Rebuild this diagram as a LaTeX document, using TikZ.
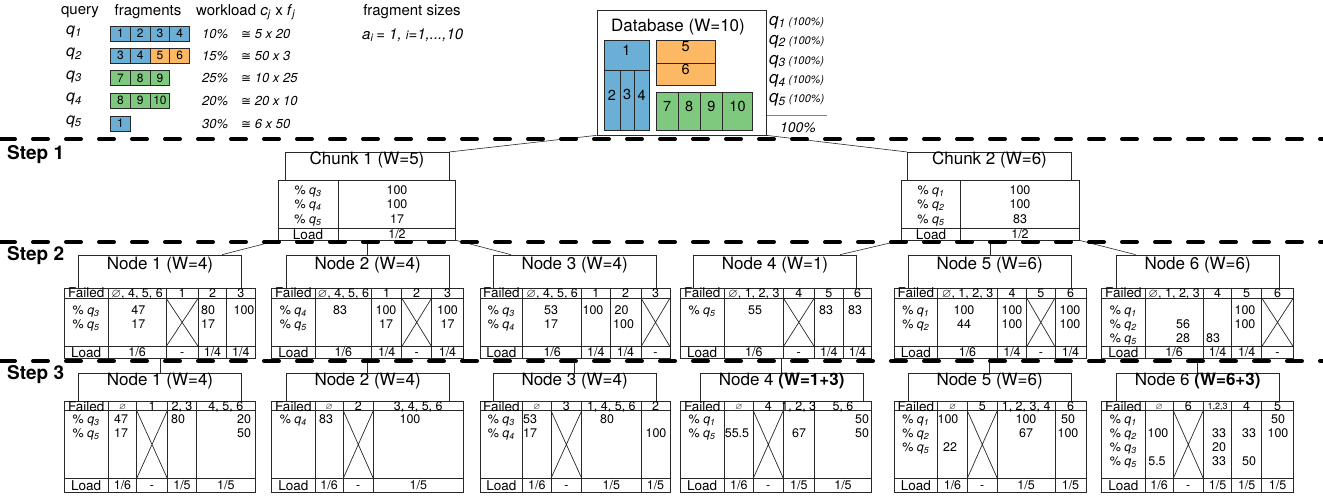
\documentclass[tikz,border=0pt]{standalone}
\usepackage{fontspec}
\setmainfont{TeX Gyre Heros}
\newfontfamily\djv{DejaVu Sans}
\usepackage{amssymb}
\usetikzlibrary{calc,fit}
\definecolor{cblue}{RGB}{107,174,214}
\definecolor{corange}{RGB}{253,184,99}
\definecolor{cgreen}{RGB}{127,201,127}
\definecolor{lc}{RGB}{40,40,40}
\newcommand{\qq}[1]{\textit{q}\textsubscript{\textit{#1}}}
\newcommand{\es}{$\varnothing$}
\newcommand{\cgsym}{{\djv\upshape\fontsize{12}{14}\selectfont ≅}}
\newcounter{tn}
\newcommand{\tx}[4][]{\stepcounter{tn}\node[cell,#1] (t\arabic{tn}) at (#2,#3) {#4};}
\newcommand{\mktab}[5]{\node[box,fit={(#2,#3)(#4,#5)}] (#1) {};}
\newcommand{\ttlbox}[6]{\node[box,ttl,fit={(#2,#3)(#4,#5)}] (#1) {#6};}
\newcommand{\vd}[3]{\draw[tl] (#1,#2) -- (#1,#3);}
\newcommand{\hd}[3]{\draw[tl] (#1,#3) -- (#2,#3);}
\newcommand{\xx}[4]{\draw[tl] (#1,#3) -- (#2,#4) (#1,#4) -- (#2,#3);}
\newcommand{\stwotab}[4]{\mktab{#1}{#2}{288}{#3}{358}\hd{#2}{#3}{298}\hd{#2}{#3}{346.7}\foreach \dv in {#4}{\vd{\dv}{288}{358}}}
\newcommand{\sthreetab}[4]{\mktab{#1}{#2}{401.7}{#3}{492.3}\hd{#2}{#3}{410.7}\hd{#2}{#3}{478.3}\foreach \dv in {#4}{\vd{\dv}{401.7}{492.3}}}
\begin{document}
\begin{tikzpicture}[x=1pt,y=-1pt,
  tl/.style={draw=lc, line width=0.7pt},
  box/.style={draw=lc, line width=0.7pt, inner sep=0pt},
  ttl/.style={font=\fontsize{17}{20}\selectfont},
  cell/.style={inner sep=0pt, font=\fontsize{12.5}{14}\selectfont, text height=8.9pt, text depth=0pt},
  lab/.style={font=\fontsize{13.5}{15}\selectfont, text height=9.6pt},
  sm/.style={font=\fontsize{9}{10}\selectfont, text height=6.5pt},
  conn/.style={draw=lc, line width=0.6pt},
  stepline/.style={draw=black, line width=4pt, dash pattern=on 15pt off 18pt, line cap=round},
  steplabel/.style={inner sep=0pt, anchor=west, font=\fontsize{19}{21}\selectfont\bfseries},
  fb/.style={box, minimum width=19.7pt, minimum height=15pt, font=\fontsize{12}{14}\selectfont},
  hdr/.style={inner sep=0pt, font=\fontsize{15}{18}\selectfont},
  ql/.style={inner sep=0pt, font=\fontsize{16}{18}\selectfont},
  wl/.style={inner sep=0pt, anchor=west, font=\fontsize{13}{15}\selectfont\itshape, text height=9pt, text depth=0pt},
  dbn/.style={box, font=\fontsize{14.5}{16}\selectfont},
  dbq/.style={inner sep=0pt, anchor=base west, font=\fontsize{17}{19}\selectfont},
]
\useasboundingbox (0,0) rectangle (1323,498);
\fill[white] (0,0) rectangle (1323,498);
% ---------------- legend
\node[hdr] (hq) at (80,12) {query};
\node[hdr] (hf) at (148,12) {fragments};
\node[hdr, anchor=west] (hw) at (196,12) {workload \textit{c}\textsubscript{\textit{j}} x \textit{f}\textsubscript{\textit{j}}};
\node[hdr] (hs) at (412,12) {fragment sizes};
\node[hdr, anchor=west] (ai) at (362,35) {\textit{a}\textsubscript{\textit{i}}\,\textit{= 1, }{\itshape{\fontsize{12}{14}\selectfont i}=1,...,10}};
\foreach \i/\yy in {1/31.5,2/54,3/76.5,4/99,5/121.5}{\node[ql] (q\i) at (74,\yy) {\qq{\i}};}
\foreach \i/\c [count=\k] in {1/cblue,2/cblue,3/cblue,4/cblue}{\node[fb, fill=\c] (fa\k) at ({110.7+19.7*(\k-0.5)},33.5) {\i};}
\foreach \i/\c [count=\k] in {3/cblue,4/cblue,5/corange,6/corange}{\node[fb, fill=\c] (fb\k) at ({110.7+19.7*(\k-0.5)},55.5) {\i};}
\foreach \i/\c [count=\k] in {7/cgreen,8/cgreen,9/cgreen}{\node[fb, fill=\c] (fc\k) at ({110.7+19.7*(\k-0.5)},78) {\i};}
\foreach \i/\c [count=\k] in {8/cgreen,9/cgreen,10/cgreen}{\node[fb, fill=\c] (fd\k) at ({110.7+19.7*(\k-0.5)},100.7) {\i};}
\node[fb, fill=cblue] (fe1) at (120.55,123.5) {1};
\foreach \p/\f/\yy [count=\k] in {10/5 x 20/33.5,15/50 x 3/55.5,25/10 x 25/78,20/20 x 10/100.7,30/6 x 50/123.5}{
  \node[wl] (wp\k) at (202,\yy) {\p\%};
  \node[wl] (wf\k) at (241,\yy) {\cgsym\ \f};
}
% ---------------- database
\node[box, fit={(597,10)(766,135)}] (db) {};
\node[inner sep=0pt, ttl] (dbt) at (678,27) {Database (W=10)};
\node[dbn, fill=cblue, fit={(604,40.7)(649,70)}] (d1) {1};
\node[dbn, fill=cblue, fit={(604,70)(620,130)}] (d2) {2};
\node[dbn, fill=cblue, fit={(620,70)(634.3,130)}] (d3) {3};
\node[dbn, fill=cblue, fit={(634.3,70)(649,130)}] (d4) {4};
\node[dbn, fill=corange, fit={(656,40.7)(715.3,63.3)}] (d5) {5};
\node[dbn, fill=corange, fit={(656,63.3)(715.3,85)}] (d6) {6};
\node[dbn, fill=cgreen, fit={(656,92.3)(678.3,130)}] (d7) {7};
\node[dbn, fill=cgreen, fit={(678.3,92.3)(700,130)}] (d8) {8};
\node[dbn, fill=cgreen, fit={(700,92.3)(722.7,130)}] (d9) {9};
\node[dbn, fill=cgreen, fit={(722.7,92.3)(752.3,130)}] (d10) {10};
\foreach \i/\yy in {1/25.2,2/44.2,3/64.2,4/83.5,5/102.8}{\node[dbq] (dq\i) at (769,\yy) {\qq{\i}\,{\fontsize{11}{12}\selectfont\textit{(100\%)}}};}
\draw[draw=gray, line width=0.8pt] (767,115) -- (827,115);
\node[inner sep=0pt, font=\fontsize{14}{16}\selectfont\itshape] (tot) at (798,127.7) {100\%};
% ---------------- step labels
\node[steplabel] (st1) at (7,155) {Step 1};
\node[steplabel] (st2) at (7,256) {Step 2};
\node[steplabel] (st3) at (7,375) {Step 3};
% ---------------- chunks
\ttlbox{ch1}{285}{152.3}{449}{180.7}{Chunk 1 (W=5)}
\mktab{ch1t}{278.3}{180.7}{455.7}{240}
\vd{338.3}{180.7}{240}
\hd{278.3}{455.7}{228.3}
\tx{308}{190}{\% \qq{3}}
\tx{308}{204.3}{\% \qq{4}}
\tx{308}{219}{\% \qq{5}}
\tx[lab]{308}{234.3}{Load}
\tx{397}{190}{100}
\tx{397}{204.3}{100}
\tx{397}{219}{17}
\tx{397}{234.3}{1/2}
\ttlbox{ch2}{907.3}{152.3}{1071.7}{180.7}{Chunk 2 (W=6)}
\mktab{ch2t}{901.7}{180.7}{1079}{240}
\vd{960.7}{180.7}{240}
\hd{901.7}{1079}{228.3}
\tx{931}{190}{\% \qq{1}}
\tx{931}{204.3}{\% \qq{2}}
\tx{931}{219}{\% \qq{5}}
\tx[lab]{931}{234.3}{Load}
\tx{1020}{190}{100}
\tx{1020}{204.3}{100}
\tx{1020}{219}{83}
\tx{1020}{234.3}{1/2}
% ---------------- step 2
% Node 1
\ttlbox{s2n1}{78.3}{255}{241.7}{288}{Node 1 (W=4)}
\stwotab{s2t1}{64}{255}{108.3,166,198.3,226.7}
\xx{166}{198.3}{298}{346.7}
\tx[lab]{86.15}{293}{Failed}
\tx{137.15}{293}{\es, 4, 5, 6}
\tx{182.15}{293}{1}
\tx{212.5}{293}{2}
\tx{240.85}{293}{3}
\tx{86.15}{310}{\% \qq{3}}
\tx{86.15}{324}{\% \qq{5}}
\tx{138.3}{310}{47}
\tx{138.3}{324}{17}
\tx{208}{310}{80}
\tx{208}{324}{17}
\tx{244}{310}{100}
\tx[lab]{86.15}{352.5}{Load}
\tx{137.15}{352.5}{1/6}
\tx{182.15}{352.5}{-}
\tx{212.5}{352.5}{1/4}
\tx{240.85}{352.5}{1/4}
% Node 2
\ttlbox{s2n2}{286}{255}{449.3}{288}{Node 2 (W=4)}
\stwotab{s2t2}{271.7}{463.3}{315,371.7,401.7,431.7}
\xx{401.7}{431.7}{298}{346.7}
\tx[lab]{293.35}{293}{Failed}
\tx{343.35}{293}{\es, 4, 5, 6}
\tx{386.7}{293}{1}
\tx{416.7}{293}{2}
\tx{447.5}{293}{3}
\tx{293.35}{310}{\% \qq{4}}
\tx{293.35}{324}{\% \qq{5}}
\tx{340}{310}{83}
\tx{386}{310}{100}
\tx{386}{324}{17}
\tx{447.5}{310}{100}
\tx{447.5}{324}{17}
\tx[lab]{293.35}{352.5}{Load}
\tx{343.35}{352.5}{1/6}
\tx{386.7}{352.5}{1/4}
\tx{416.7}{352.5}{-}
\tx{447.5}{352.5}{1/4}
% Node 3
\ttlbox{s2n3}{493.3}{255}{656}{288}{Node 3 (W=4)}
\stwotab{s2t3}{480}{670}{522.7,581.7,610,641}
\xx{641}{670}{298}{346.7}
\tx[lab]{501.35}{293}{Failed}
\tx{552.2}{293}{\es, 4, 5, 6}
\tx{595.85}{293}{1}
\tx{625.5}{293}{2}
\tx{655.5}{293}{3}
\tx{501.35}{310}{\% \qq{3}}
\tx{501.35}{324}{\% \qq{4}}
\tx{551}{310}{53}
\tx{551}{324}{17}
\tx{593}{310}{100}
\tx[anchor=west]{614.5}{310}{20}
\tx[anchor=west]{613}{324}{100}
\tx[lab]{501.35}{352.5}{Load}
\tx{552.2}{352.5}{1/6}
\tx{595.85}{352.5}{1/4}
\tx{625.5}{352.5}{1/4}
\tx{655.5}{352.5}{-}
% Node 4
\ttlbox{s2n4}{693.3}{255}{856.7}{288}{Node 4 (W=1)}
\stwotab{s2t4}{680}{871.7}{724.3,783.3,814.3,843.3}
\xx{783.3}{814.3}{298}{346.7}
\tx[lab]{702.15}{293}{Failed}
\tx{753.8}{293}{\es, 1, 2, 3}
\tx{798.8}{293}{4}
\tx{828.8}{293}{5}
\tx{857.5}{293}{6}
\tx{702.15}{310}{\% \qq{5}}
\tx{755}{310}{55}
\tx{826}{310}{83}
\tx{855}{310}{83}
\tx[lab]{702.15}{352.5}{Load}
\tx{753.8}{352.5}{1/6}
\tx{798.8}{352.5}{-}
\tx{828.8}{352.5}{1/4}
\tx{857.5}{352.5}{1/4}
% Node 5
\ttlbox{s2n5}{908.3}{255}{1071}{288}{Node 5 (W=6)}
\stwotab{s2t5}{894}{1086}{937.7,997.3,1026.7,1055}
\xx{1026.7}{1055}{298}{346.7}
\tx[lab]{915.85}{293}{Failed}
\tx{967.5}{293}{\es, 1, 2, 3}
\tx{1012}{293}{4}
\tx{1040.85}{293}{5}
\tx{1070.5}{293}{6}
\tx{915.85}{310}{\% \qq{1}}
\tx{915.85}{324}{\% \qq{2}}
\tx{964}{310}{100}
\tx{964}{324}{44}
\tx{1012}{310}{100}
\tx{1012}{324}{100}
\tx{1070}{310}{100}
\tx{1070}{324}{100}
\tx[lab]{915.85}{352.5}{Load}
\tx{967.5}{352.5}{1/6}
\tx{1012}{352.5}{1/4}
\tx{1040.85}{352.5}{-}
\tx{1070.5}{352.5}{1/4}
% Node 6
\ttlbox{s2n6}{1116}{255}{1279.3}{288}{Node 6 (W=6)}
\stwotab{s2t6}{1101.7}{1293.3}{1145,1203.3,1231.7,1261.7}
\xx{1261.7}{1293.3}{298}{346.7}
\tx[lab]{1123.35}{293}{Failed}
\tx{1174.15}{293}{\es, 1, 2, 3}
\tx{1217.5}{293}{4}
\tx{1246.7}{293}{5}
\tx{1277.5}{293}{6}
\tx{1123.35}{310}{\% \qq{1}}
\tx{1123.35}{324}{\% \qq{2}}
\tx{1123.35}{338}{\% \qq{5}}
\tx{1183}{324}{56}
\tx{1183}{338}{28}
\tx{1213}{338}{83}
\tx{1245}{310}{100}
\tx{1245}{324}{100}
\tx[lab]{1123.35}{352.5}{Load}
\tx{1174.15}{352.5}{1/6}
\tx{1217.5}{352.5}{1/4}
\tx{1246.7}{352.5}{1/4}
\tx{1277.5}{352.5}{-}
% ---------------- step 3
% Node 1
\ttlbox{s3n1}{78.3}{373.3}{241.7}{401.7}{Node 1 (W=4)}
\sthreetab{s3t1}{64}{255}{108.3,136.7,167.3,196.7}
\xx{136.7}{167.3}{410.7}{478.3}
\tx[lab]{86.15}{406.2}{Failed}
\tx[sm]{122.5}{406.2}{\es}
\tx{152}{406.2}{1}
\tx{182}{406.2}{2, 3}
\tx{225.85}{406.2}{4, 5, 6}
\tx{86.15}{419.3}{\% \qq{3}}
\tx{86.15}{433.3}{\% \qq{5}}
\tx{121}{419.3}{47}
\tx{121}{433.3}{17}
\tx{178}{419.3}{80}
\tx{244}{419.3}{20}
\tx{244}{433.3}{50}
\tx[lab]{86.15}{485.3}{Load}
\tx{122.5}{485.3}{1/6}
\tx{152}{485.3}{-}
\tx{182}{485.3}{1/5}
\tx{225.85}{485.3}{1/5}
% Node 2
\ttlbox{s3n2}{286}{373.3}{449.3}{401.7}{Node 2 (W=4)}
\sthreetab{s3t2}{271.7}{463.3}{315,343.3,373.3}
\xx{343.3}{373.3}{410.7}{478.3}
\tx[lab]{293.35}{406.2}{Failed}
\tx[sm]{329.15}{406.2}{\es}
\tx{358.3}{406.2}{2}
\tx{418.3}{406.2}{3, 4, 5, 6}
\tx{293.35}{419.3}{\% \qq{4}}
\tx{326}{419.3}{83}
\tx{410}{419.3}{100}
\tx[lab]{293.35}{485.3}{Load}
\tx{329.15}{485.3}{1/6}
\tx{358.3}{485.3}{-}
\tx{418.3}{485.3}{1/5}
% Node 3
\ttlbox{s3n3}{493.3}{373.3}{656}{401.7}{Node 3 (W=4)}
\sthreetab{s3t3}{480}{670}{522.7,551,581.7,641}
\xx{551}{581.7}{410.7}{478.3}
\tx[lab]{501.35}{406.2}{Failed}
\tx[sm]{536.85}{406.2}{\es}
\tx{566.35}{406.2}{3}
\tx{611.35}{406.2}{1, 4, 5, 6}
\tx{655.5}{406.2}{2}
\tx{501.35}{419.3}{\% \qq{3}}
\tx{501.35}{433.3}{\% \qq{4}}
\tx{530}{419.3}{53}
\tx{530}{433.3}{17}
\tx{607}{419.3}{80}
\tx{656}{433.3}{100}
\tx[lab]{501.35}{485.3}{Load}
\tx{536.85}{485.3}{1/6}
\tx{566.35}{485.3}{-}
\tx{611.35}{485.3}{1/5}
\tx{655.5}{485.3}{1/5}
% Node 4
\ttlbox{s3n4}{700}{373.3}{863.3}{401.7}{Node 4 \textbf{(W=1+3)}}
\sthreetab{s3t4}{680}{871.7}{724.3,753.3,783.3,814.3}
\xx{753.3}{783.3}{410.7}{478.3}
\tx[lab]{702.15}{406.2}{Failed}
\tx[sm]{738.8}{406.2}{\es}
\tx{768.3}{406.2}{4}
\tx{798.8}{406.2}{1, 2, 3}
\tx{843}{406.2}{5, 6}
\tx{702.15}{419.3}{\% \qq{1}}
\tx{702.15}{433.3}{\% \qq{5}}
\tx{737}{433.3}{55.5}
\tx{799}{433.3}{67}
\tx{862}{419.3}{50}
\tx{862}{433.3}{50}
\tx[lab]{702.15}{485.3}{Load}
\tx{738.8}{485.3}{1/6}
\tx{768.3}{485.3}{-}
\tx{798.8}{485.3}{1/5}
\tx{843}{485.3}{1/5}
% Node 5
\ttlbox{s3n5}{908.3}{373.3}{1071}{401.7}{Node 5 (W=6)}
\sthreetab{s3t5}{894}{1086}{937.7,967.3,997.3,1055}
\xx{967.3}{997.3}{410.7}{478.3}
\tx[lab]{915.85}{406.2}{Failed}
\tx[sm]{952.5}{406.2}{\es}
\tx{982.3}{406.2}{5}
\tx{1026.15}{406.2}{1, 2, 3, 4}
\tx{1070.5}{406.2}{6}
\tx{915.85}{419.3}{\% \qq{1}}
\tx{915.85}{433.3}{\% \qq{2}}
\tx{915.85}{447.3}{\% \qq{5}}
\tx{948}{419.3}{100}
\tx{950}{447.3}{22}
\tx{1026}{419.3}{100}
\tx{1026}{433.3}{67}
\tx{1068}{419.3}{50}
\tx{1068}{433.3}{100}
\tx[lab]{915.85}{485.3}{Load}
\tx{952.5}{485.3}{1/6}
\tx{982.3}{485.3}{-}
\tx{1026.15}{485.3}{1/5}
\tx{1070.5}{485.3}{1/5}
% Node 6
\ttlbox{s3n6}{1116}{373.3}{1279.3}{401.7}{Node 6 \textbf{(W=6+3)}}
\sthreetab{s3t6}{1101.7}{1293.3}{1145,1173.3,1203.3,1231.7,1261.7}
\xx{1173.3}{1203.3}{410.7}{478.3}
\tx[lab]{1123.35}{406.2}{Failed}
\tx[sm]{1159.15}{406.2}{\es}
\tx{1188.3}{406.2}{6}
\tx[sm]{1217.5}{406.2}{1,2,3}
\tx{1246.7}{406.2}{4}
\tx{1277.5}{406.2}{5}
\tx{1123.35}{419.3}{\% \qq{1}}
\tx{1123.35}{433.3}{\% \qq{2}}
\tx{1123.35}{447.3}{\% \qq{3}}
\tx{1123.35}{461.3}{\% \qq{5}}
\tx{1158}{433.3}{100}
\tx{1157}{461.3}{5.5}
\tx{1219}{433.3}{33}
\tx{1219}{447.3}{20}
\tx{1219}{461.3}{33}
\tx{1249}{433.3}{33}
\tx{1249}{461.3}{50}
\tx{1278}{419.3}{50}
\tx{1278}{433.3}{100}
\tx[lab]{1123.35}{485.3}{Load}
\tx{1159.15}{485.3}{1/6}
\tx{1188.3}{485.3}{-}
\tx{1217.5}{485.3}{1/5}
\tx{1246.7}{485.3}{1/5}
\tx{1277.5}{485.3}{1/5}
% ---------------- connectors
\draw[conn] (db.south west) -- (ch1.north east);
\draw[conn] (db.south east) -- (ch2.north west);
\draw[conn] (ch1t.south west) -- ($(s2n1.north east)+(-20,0)$);
\draw[conn] (ch1t.south) -- (ch1t.south |- s2n2.north);
\draw[conn] (ch1t.south east) -- ($(s2n3.north west)+(18,0)$);
\draw[conn] (ch2t.south west) -- ($(s2n4.north east)+(-17,0)$);
\draw[conn] (ch2t.south) -- (ch2t.south |- s2n5.north);
\draw[conn] (ch2t.south east) -- ($(s2n6.north west)+(20,0)$);
\foreach \i in {1,...,6}{\draw[conn] (s3n\i.north |- s2t\i.south) -- (s3n\i.north);}
% ---------------- step lines
\draw[stepline] (0,139) -- (1323,139);
\draw[stepline] (0,242) -- (1323,242);
\draw[stepline] (0,361) -- (1323,361);
\end{tikzpicture}
\end{document}
